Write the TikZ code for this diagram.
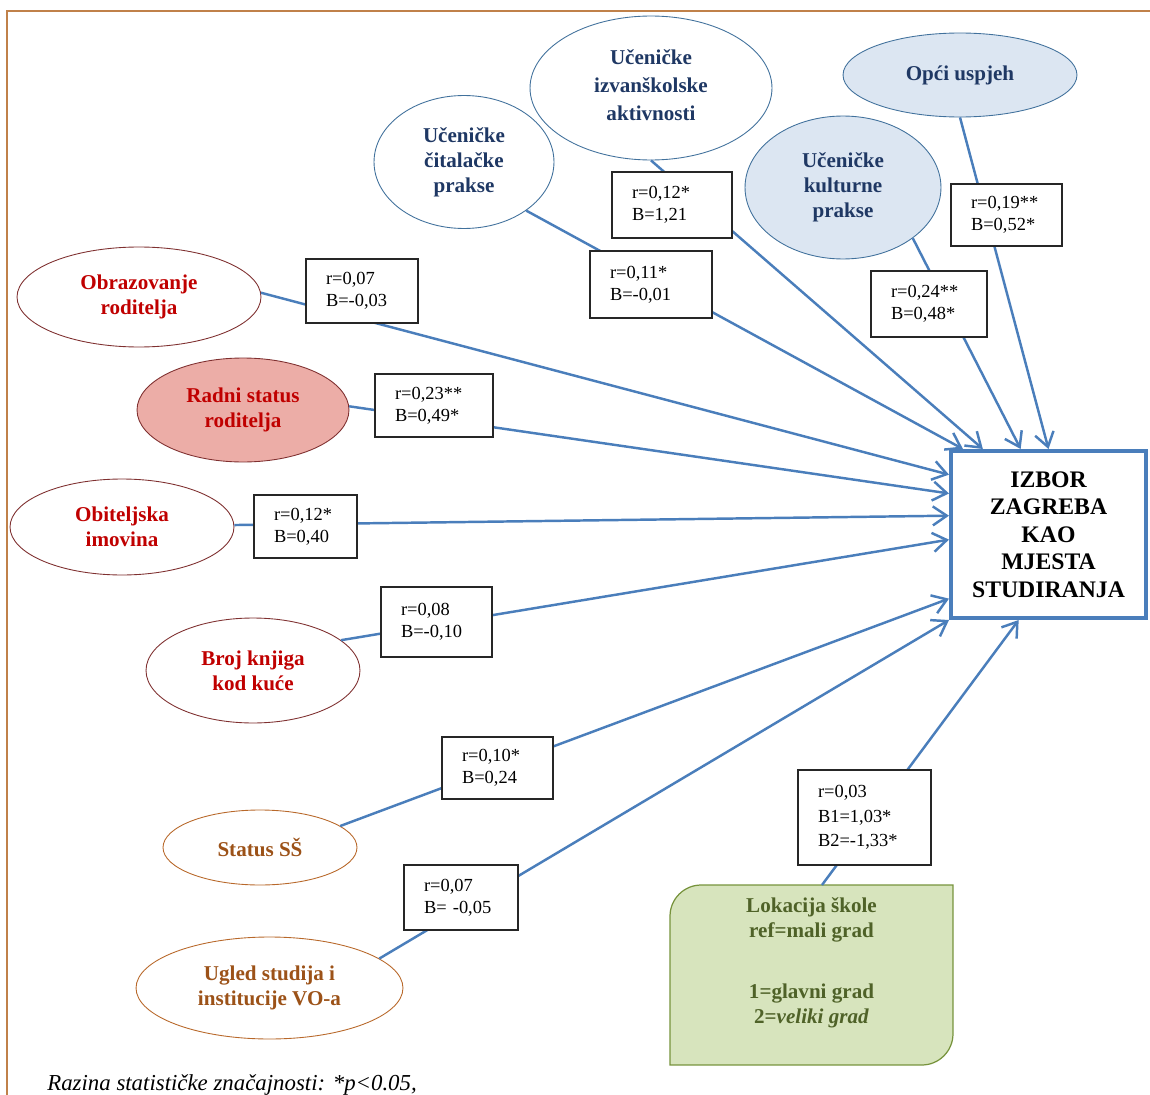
\documentclass[tikz,border=0pt]{standalone}
\usepackage{fontspec}
\setmainfont{Liberation Serif}
\usetikzlibrary{shapes.geometric,arrows.meta,calc}
\definecolor{conn}{HTML}{4A7EBB}
\definecolor{navytxt}{HTML}{1F3864}
\definecolor{bluebord}{HTML}{41719C}
\definecolor{lightblue}{HTML}{DCE6F2}
\definecolor{redtxt}{HTML}{C00000}
\definecolor{redbord}{HTML}{7F3030}
\definecolor{pinkfill}{HTML}{ECADA7}
\definecolor{browntxt}{HTML}{9C5218}
\definecolor{brownbord}{HTML}{B8682A}
\definecolor{greentxt}{HTML}{4F6228}
\definecolor{greenfill}{HTML}{D7E4BD}
\definecolor{greenbord}{HTML}{77933C}
\definecolor{framec}{HTML}{C0814A}
\newcommand\etfont{\fontsize{12}{14.2}\selectfont\bfseries}
\newcommand\lbfont{\fontsize{10.5}{12.5}\selectfont}
\begin{document}
\begin{tikzpicture}[x=0.02cm,y=-0.02cm,
  ell/.style={ellipse, line width=0.5pt, font=\etfont, align=center, inner sep=0pt},
  ellB/.style={ell, draw=bluebord, text=navytxt, fill=white},
  ellBf/.style={ell, draw=bluebord, text=navytxt, fill=lightblue},
  ellR/.style={ell, draw=redbord, text=redtxt, fill=white},
  ellRf/.style={ell, draw=redbord, text=redtxt, fill=pinkfill},
  ellO/.style={ell, draw=brownbord, text=browntxt, fill=white},
  lab/.style={draw=black!85, fill=white, line width=1pt, font=\lbfont, align=left, inner xsep=0.4cm, inner ysep=0pt},
  arr/.style={draw=conn, line width=1.4pt, -{Straight Barb[length=2.8mm,width=3.8mm,line width=1.4pt]}},
  tbox/.style={draw=conn, line width=2.3pt, fill=white, align=center, minimum width=3.9cm, minimum height=3.34cm, inner sep=0pt, font=\fontsize{13.5}{15.7}\selectfont\bfseries},
  lokbox/.style={draw=greenbord, fill=greenfill, line width=0.7pt},
  loktext/.style={text=greentxt, font=\etfont, align=center, inner sep=0pt}
]
\useasboundingbox (0,0) rectangle (1150,1095);
\draw[framec, line width=0.7pt] (7,1110) -- (7,11) -- (1160,11);

% source ellipses
\node[ellB, minimum width=3.6cm, minimum height=2.66cm] (cit) at (464,162) {Učeničke\\čitalačke\\prakse};
\node[ellB, minimum width=4.84cm, minimum height=2.88cm, font=\fontsize{12}{15.9}\selectfont\bfseries] (izv) at (651,88) {Učeničke\\izvanškolske\\aktivnosti\\[-12.5pt]};
\node[ellBf, minimum width=4.68cm, minimum height=1.68cm] (opci) at (960,75) {Opći uspjeh};
\node[ellBf, minimum width=3.92cm, minimum height=2.86cm] (kult) at (843,187.5) {Učeničke\\kulturne\\prakse};
\node[ellR, minimum width=4.88cm, minimum height=2.0cm] (obr) at (139,297) {Obrazovanje\\roditelja};
\node[ellRf, minimum width=4.24cm, minimum height=2.08cm] (rad) at (243,410) {Radni status\\roditelja};
\node[ellR, minimum width=4.48cm, minimum height=1.92cm] (obi) at (122,527) {Obiteljska\\imovina};
\node[ellR, minimum width=4.28cm, minimum height=2.1cm] (bro) at (253,670.5) {Broj knjiga\\kod kuće};
\node[ellO, minimum width=3.88cm, minimum height=1.5cm] (sta) at (260,847.5) {Status SŠ};
\node[ellO, minimum width=5.34cm, minimum height=2.04cm] (ugl) at (269.5,988) {Ugled studija i\\institucije VO-a};

% target
\node[tbox] (T) at (1048.5,534.5) {IZBOR\\ZAGREBA\\KAO\\MJESTA\\STUDIRANJA};

% Lokacija skole box
\path node[minimum width=5.66cm, minimum height=3.6cm, inner sep=0pt, outer sep=0pt] (L) at (811.5,975) {};
\draw[lokbox] (L.south west) -- ([yshift=-0.62cm]L.north west)
  .. controls ([yshift=-0.28cm]L.north west) and ([xshift=0.28cm]L.north west) .. ([xshift=0.62cm]L.north west)
  -- (L.north east) -- ([yshift=0.62cm]L.south east)
  .. controls ([yshift=0.28cm]L.south east) and ([xshift=-0.28cm]L.south east) .. ([xshift=-0.62cm]L.south east) -- cycle;
\node[loktext] (Lt) at (811.5,963) {Lokacija škole\\ref=mali grad\\[20.4pt]1=glavni grad\\2=\textit{veliki grad}};

% connectors
\draw[arr] (cit.-38) -- ($(T.north west)!0.07!(T.north east)$);
\draw[arr] (izv.-90) -- ($(T.north west)!0.17!(T.north east)$);
\draw[arr] (kult.-36.5) -- ($(T.north west)!0.36!(T.north east)$);
\draw[arr] (opci.-90) -- ($(T.north west)!0.5!(T.north east)$);
\draw[arr] (obr.2) -- ($(T.north west)!0.15!(T.south west)$);
\draw[arr] (rad.2) -- ($(T.north west)!0.26!(T.south west)$);
\draw[arr] (obi.1) -- ($(T.north west)!0.39!(T.south west)$);
\draw[arr] (bro.19) -- ($(T.north west)!0.53!(T.south west)$);
\draw[arr] (sta.15) -- ($(T.north west)!0.875!(T.south west)$);
\draw[arr] (ugl.15) -- (T.south west);
\draw[arr] ($(L.north west)!0.537!(L.north east)$) -- ($(T.south west)!0.35!(T.south east)$);

% coefficient labels
\node[lab, text width=1.44cm, minimum height=1.28cm] (Lobr) at (362,291) {r=0,07\\B=-0,03};
\node[lab, text width=1.60cm, minimum height=1.32cm] (Lizv) at (672,205) {r=0,12*\\B=1,21};
\node[lab, text width=1.64cm, minimum height=1.34cm] (Lcit) at (651,284.5) {r=0,11*\\B=-0,01};
\node[lab, text width=1.42cm, minimum height=1.24cm] (Lopc) at (1006.5,215) {r=0,19**\\B=0,52*};
\node[lab, text width=1.52cm, minimum height=1.32cm] (Lkul) at (929,304) {r=0,24**\\B=0,48*};
\node[lab, text width=1.56cm, minimum height=1.26cm] (Lrad) at (434,405.5) {r=0,23**\\B=0,49*};
\node[lab, text width=1.26cm, minimum height=1.26cm] (Lobi) at (305.5,526.5) {r=0,12*\\B=0,40};
\node[lab, text width=1.42cm, minimum height=1.40cm] (Lbro) at (436.5,622) {r=0,08\\B=-0,10};
\node[lab, text width=1.42cm, minimum height=1.24cm] (Lsta) at (497.5,768) {r=0,10*\\B=0,24};
\node[lab, text width=1.48cm, minimum height=1.30cm] (Lugl) at (461,897.5) {r=0,07\\B=~-0,05};
\node[lab, text width=1.86cm, minimum height=1.90cm, font=\fontsize{10.5}{13.9}\selectfont] (Lloc) at (864.5,817.5) {r=0,03\\B1=1,03*\\B2=-1,33*};

% footnote
\node[anchor=base west, inner sep=0pt, font=\fontsize{13}{15}\selectfont\itshape] (foot) at (47,1090) {Razina statističke značajnosti: *p<0.05,};
\end{tikzpicture}
\end{document}
